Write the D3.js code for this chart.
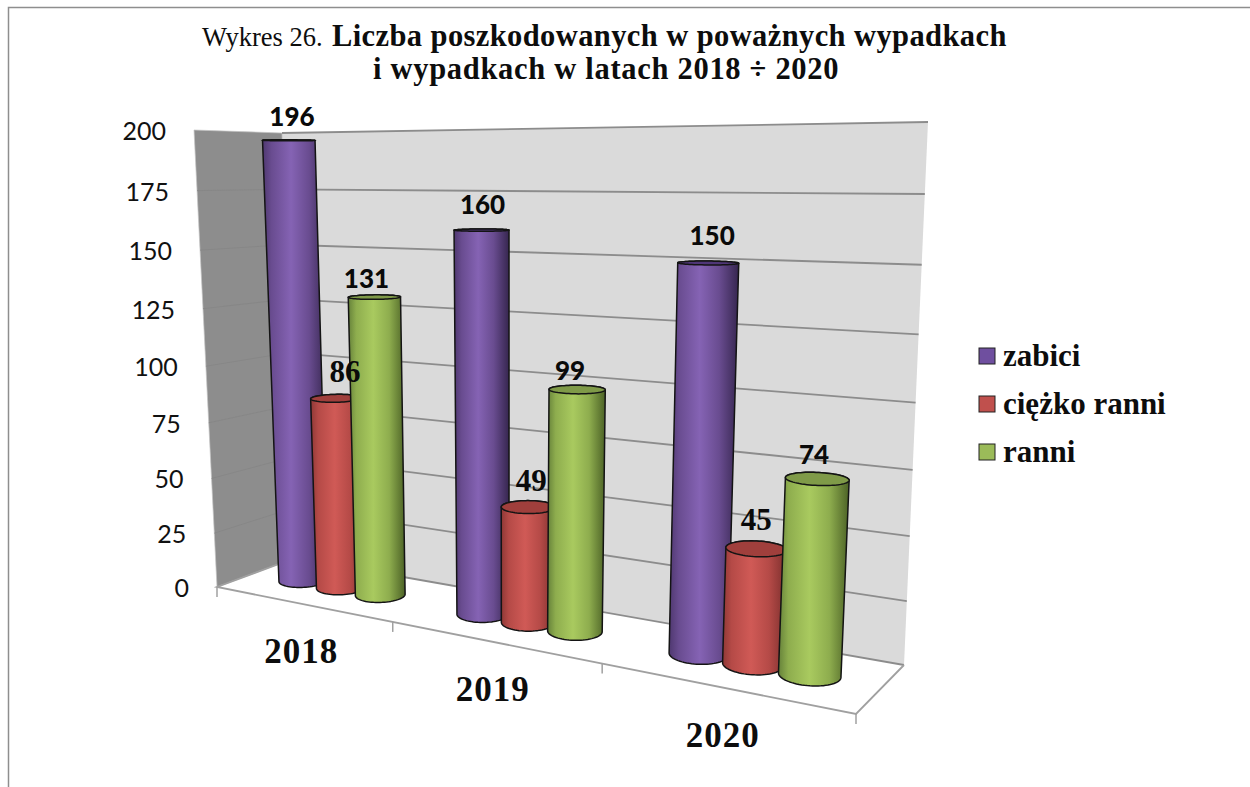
<!DOCTYPE html>
<html>
<head>
<meta charset="utf-8">
<script src="https://cdn.jsdelivr.net/npm/d3@7"></script>
<style>
  html, body { margin: 0; background: #fff; }
  svg { display: block; }
  .serif { font-family: "Liberation Serif", serif; }
  .sans { font-family: Lato, sans-serif; }
</style>
</head>
<body>
<div id="chart"></div>
<script>
// chart values
const years = ["2018", "2019", "2020"];
const seriesNames = ["zabici", "ciężko ranni", "ranni"];
const zabici = [196, 160, 150];
const ciezkoRanni = [86, 49, 45];
const ranni = [131, 99, 74];
const yTicks = [0, 25, 50, 75, 100, 125, 150, 175, 200];

const values = [zabici, ciezkoRanni, ranni];

// colours per series
const bodyLeft = ["#4f3870", "#8f3836", "#66823a"];
const bodyRight = ["#36264f", "#7a2e2c", "#4c6226"];
const bodyLight = ["#8563b4", "#d05a56", "#a9ca5f"];
const bodyMid = ["#694c90", "#b54a47", "#8ead4e"];
const topFill = ["#4f3677", "#a03f3c", "#7f9a48"];
const legendFill = ["#6f4f9f", "#c0504d", "#9bbb59"];

const width = 1250;
const height = 787;

// the 3d box as seen on the page: [u][v][w]
const box = [
  [[[217, 587], [295, 558]], [[194, 130], [282, 133]]],
  [[[856, 714], [904, 665]], [[885, 118], [928, 122]]]
];
// farther corners weigh more, this gives the perspective
const uWeight = [1.318, 1];
const vWeight = [1.07, 1];
const wWeight = [1, 1.1];

function project(u, v, w) {
  let x = 0, y = 0, sum = 0;
  for (let a = 0; a < 2; a++) {
    for (let b = 0; b < 2; b++) {
      for (let c = 0; c < 2; c++) {
        const k = (a ? u : 1 - u) * uWeight[a]
          * (b ? v : 1 - v) * vWeight[b]
          * (c ? w : 1 - w) * wWeight[c];
        x += k * box[a][b][c][0];
        y += k * box[a][b][c][1];
        sum += k;
      }
    }
  }
  return [x / sum, y / sum];
}

const yScale = d3.scaleLinear().domain([0, 200]).range([0, 1]);
const uScale = d3.scaleBand().domain(years).range([0, 1]);
const seriesScale = d3.scalePoint().domain(seriesNames).range([-0.073, 0.077]);

const radiusU = 0.038;
const radiusW = 0.2;
const depthMid = 0.5;

const svg = d3
  .select("#chart")
  .append("svg")
  .attr("width", width)
  .attr("height", height);

const line = d3.line();
const closed = pts => line(pts) + "Z";

// gradients for the cylinders
const defs = svg.append("defs");
seriesNames.forEach((s, i) => {
  const g = defs.append("linearGradient").attr("id", "cyl" + i);
  g.append("stop").attr("offset", "0%").attr("stop-color", bodyLeft[i]);
  g.append("stop").attr("offset", "14%").attr("stop-color", bodyMid[i]);
  g.append("stop").attr("offset", "44%").attr("stop-color", bodyLight[i]);
  g.append("stop").attr("offset", "72%").attr("stop-color", bodyMid[i]);
  g.append("stop").attr("offset", "100%").attr("stop-color", bodyRight[i]);
});

// outer frame of the page
svg.append("path")
  .attr("d", "M8.5,787V7.5H1250")
  .attr("fill", "none")
  .attr("stroke", "#8e8e8e")
  .attr("stroke-width", 1.5);

// walls
svg.append("path")
  .attr("d", closed([project(0, 0, 1), project(1, 0, 1), project(1, 1, 1), project(0, 1, 1)]))
  .attr("fill", "#dadada");
svg.append("path")
  .attr("d", closed([project(0, 0, 0), project(0, 0, 1), project(0, 1, 1), project(0, 1, 0)]))
  .attr("fill", "#8d8d8d")
  .attr("stroke", "#c4c4c4")
  .attr("stroke-width", 0.7);

// gridlines
svg.append("g")
  .selectAll("path")
  .data(yTicks)
  .join("path")
  .attr("d", d => line([project(0, yScale(d), 1), project(1, yScale(d), 1)]))
  .attr("fill", "none")
  .attr("stroke", "#8c8c8c")
  .attr("stroke-width", 1.8);
svg.append("g")
  .selectAll("path")
  .data(yTicks.slice(1, -1))
  .join("path")
  .attr("d", d => line([project(0, yScale(d), 0), project(0, yScale(d), 1)]))
  .attr("fill", "none")
  .attr("stroke", "#858585")
  .attr("stroke-width", 0.8);

// floor edges and ticks
const edgeStops = [0, ...years.map(y => uScale(y) + uScale.bandwidth())];
svg.append("path")
  .attr("d", line([project(0, 0, 1), project(0, 0, 0), project(1, 0, 0), project(1, 0, 1)]))
  .attr("fill", "none")
  .attr("stroke", "#a0a0a0")
  .attr("stroke-width", 1.8);
svg.append("g")
  .selectAll("path")
  .data(edgeStops)
  .join("path")
  .attr("d", d => {
    const p = project(d, 0, 0);
    return line([p, [p[0], p[1] + 10]]);
  })
  .attr("fill", "none")
  .attr("stroke", "#a0a0a0")
  .attr("stroke-width", 1.5);

// y axis labels
svg.append("g")
  .selectAll("text")
  .data(yTicks)
  .join("text")
  .attr("class", "sans")
  .attr("x", d => project(0, yScale(d), 0)[0] - 28)
  .attr("y", d => project(0, yScale(d), 0)[1] + 10)
  .attr("text-anchor", "end")
  .attr("font-size", 25)
  .attr("fill", "#111")
  .text(d => d);

// category labels
svg.append("g")
  .selectAll("text")
  .data(years)
  .join("text")
  .attr("class", "serif")
  .attr("x", d => project(uScale(d) + uScale.bandwidth() / 2, 0, 0)[0])
  .attr("y", d => project(uScale(d) + uScale.bandwidth() / 2, 0, 0)[1] + 59)
  .attr("text-anchor", "middle")
  .attr("font-size", 35)
  .attr("font-weight", "bold")
  .attr("letter-spacing", 1)
  .attr("fill", "#0d0d0d")
  .text(d => d);

// one ring of a cylinder at a given height
function ring(u, v) {
  return d3.range(0, 72).map(k => {
    const t = (k / 72) * 2 * Math.PI;
    return project(u + radiusU * Math.cos(t), v, depthMid + radiusW * Math.sin(t));
  });
}

// small shifts of the value labels, as placed in the picture
const labelDx = [[3, 1, 4], [9, 3, 0], [-8, -7, -3]];
const labelDy = [[2, 0, -2], [0, 0, -3], [7, 7, 1]];

const labels = [];
years.forEach((year, c) => {
  const cx = uScale(year) + uScale.bandwidth() / 2;
  seriesNames.forEach((name, s) => {
    const u = cx + seriesScale(name);
    const v = yScale(values[s][c]);
    const bottom = ring(u, 0);
    const top = ring(u, v);
    svg.append("path")
      .attr("d", closed(d3.polygonHull(bottom.concat(top))))
      .attr("fill", `url(#cyl${s})`)
      .attr("stroke", "#141414")
      .attr("stroke-width", 1.5)
      .attr("stroke-linejoin", "round");
    svg.append("path")
      .attr("d", closed(top))
      .attr("fill", topFill[s])
      .attr("stroke", "#141414")
      .attr("stroke-width", 1.5);
    const p = project(u, v, depthMid);
    labels.push({ x: p[0] + labelDx[s][c], y: p[1] - 16 + labelDy[s][c], value: values[s][c], s });
  });
});

// value labels go on top of everything
svg.append("g")
  .selectAll("text")
  .data(labels)
  .join("text")
  .attr("class", d => (d.s === 1 ? "serif" : "sans"))
  .attr("x", d => d.x)
  .attr("y", d => d.y)
  .attr("text-anchor", "middle")
  .attr("font-size", d => (d.s === 1 ? 31 : 26))
  .attr("font-weight", d => (d.s === 1 ? "bold" : 900))
  .attr("fill", "#0a0a0a")
  .text(d => d.value);

// legend
const legend = svg.append("g")
  .selectAll("g")
  .data(seriesNames)
  .join("g")
  .attr("transform", (d, i) => `translate(979, ${348 + i * 48})`);
legend.append("rect")
  .attr("width", 16)
  .attr("height", 16)
  .attr("fill", (d, i) => legendFill[i])
  .attr("stroke", "#222")
  .attr("stroke-width", 1);
legend.append("text")
  .attr("class", "serif")
  .attr("x", 24)
  .attr("y", 18)
  .attr("font-size", 31)
  .attr("font-weight", "bold")
  .attr("fill", "#0d0d0d")
  .text(d => d);

// title
svg.append("text")
  .attr("class", "serif")
  .attr("x", 202)
  .attr("y", 46)
  .attr("font-size", 26.5)
  .attr("fill", "#0d0d0d")
  .text("Wykres 26.");
svg.append("text")
  .attr("class", "serif")
  .attr("x", 332)
  .attr("y", 46)
  .attr("font-size", 30.5)
  .attr("font-weight", "bold")
  .attr("letter-spacing", 0.4)
  .attr("fill", "#0d0d0d")
  .text("Liczba poszkodowanych w poważnych wypadkach");
svg.append("text")
  .attr("class", "serif")
  .attr("x", 373)
  .attr("y", 79)
  .attr("font-size", 30.5)
  .attr("font-weight", "bold")
  .attr("letter-spacing", 0.7)
  .attr("fill", "#0d0d0d")
  .text("i wypadkach w latach 2018 ÷ 2020");
</script>
</body>
</html>
